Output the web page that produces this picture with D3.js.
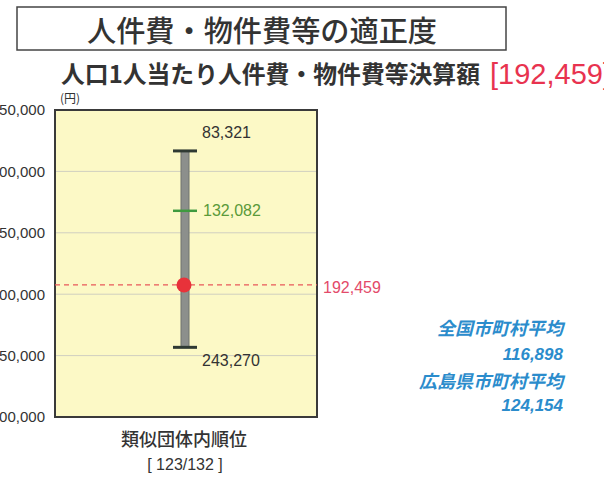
<!DOCTYPE html>
<html><head><meta charset="utf-8">
<script src="https://cdn.jsdelivr.net/npm/d3@7"></script>
<style>
html,body{margin:0;padding:0;background:#fff;}
svg{display:block;}
</style></head>
<body>
<svg id="c" width="604" height="484"></svg>
<script>
// ---- data ----
const title = "人件費・物件費等の適正度";
const subtitle = "人口1人当たり人件費・物件費等決算額";
const currentValue = 192459;       // 当該団体
const minValue = 83321;            // 類似団体内最小
const maxValue = 243270;           // 類似団体内最大
const groupAverage = 132082;       // 類似団体平均
const yTicks = [50000, 100000, 150000, 200000, 250000, 300000];
const yDomain = [50000, 300000];
const averageLabels = ["全国市町村平均", "広島県市町村平均"];
const averageValues = [116898, 124154];
const rankLabel = "類似団体内順位";
const rank = [123, 132];
const unitLabel = "(円)";

const svg = d3.select("#c");
const fmt = d3.format(",");
const cjk = "'Noto Sans CJK JP','Noto Sans',sans-serif";
const num = "'Liberation Sans',Arial,sans-serif";

// ---- layout ----
const plot = {x0: 55, x1: 317, y0: 110, y1: 417};
const y = d3.scaleLinear().domain(yDomain).range([plot.y0, plot.y1]);
const cx = 185;

// title box
svg.append("rect").attr("x", 17).attr("y", 7).attr("width", 489).attr("height", 43)
  .attr("fill", "#fff").attr("stroke", "#444").attr("stroke-width", 1.5);
svg.append("text").attr("x", 262).attr("y", 29).attr("text-anchor", "middle")
  .attr("dominant-baseline", "central")
  .attr("font-family", cjk).attr("font-size", 29).attr("font-weight", 500)
  .attr("fill", "#333").attr("textLength", 350).attr("lengthAdjust", "spacingAndGlyphs")
  .text(title);

// subtitle
svg.append("text").attr("x", 61).attr("y", 72).attr("dominant-baseline", "central")
  .attr("font-family", cjk).attr("font-size", 24).attr("font-weight", 700)
  .attr("fill", "#333").attr("textLength", 419).attr("lengthAdjust", "spacingAndGlyphs")
  .text(subtitle);
svg.append("text").attr("x", 490).attr("y", 74).attr("dominant-baseline", "central")
  .attr("font-family", num).attr("font-size", 29)
  .attr("fill", "#e8334f")
  .text("[" + fmt(currentValue) + "]");

// plot background
svg.append("rect").attr("x", plot.x0).attr("y", plot.y0)
  .attr("width", plot.x1 - plot.x0).attr("height", plot.y1 - plot.y0)
  .attr("fill", "#fcf9c6");

// grid
svg.append("g").selectAll("line").data(yTicks.slice(1, -1)).join("line")
  .attr("x1", plot.x0).attr("x2", plot.x1)
  .attr("y1", d => y(d)).attr("y2", d => y(d))
  .attr("stroke", "#d0cfc0").attr("stroke-width", 1);

// axis
const ax = svg.append("g").attr("transform", `translate(${plot.x0},0)`)
  .call(d3.axisLeft(y).tickValues(yTicks).tickSize(0).tickPadding(10).tickFormat(fmt));
ax.select(".domain").remove();
ax.selectAll("text").attr("font-family", num).attr("font-size", 15).attr("fill", "#333");

// unit
svg.append("text").attr("x", 60).attr("y", 103)
  .attr("font-family", cjk).attr("font-size", 12).attr("fill", "#333").text(unitLabel);

// border
svg.append("rect").attr("x", plot.x0).attr("y", plot.y0)
  .attr("width", plot.x1 - plot.x0).attr("height", plot.y1 - plot.y0)
  .attr("fill", "none").attr("stroke", "#3a3a3a").attr("stroke-width", 2);

// range bar
svg.append("rect").attr("x", cx - 4).attr("y", y(minValue))
  .attr("width", 8).attr("height", y(maxValue) - y(minValue))
  .attr("fill", "#8c8f8c").attr("stroke", "#6f736f").attr("stroke-width", 1);
svg.append("g").selectAll("line").data([minValue, maxValue]).join("line")
  .attr("x1", cx - 12).attr("x2", cx + 12)
  .attr("y1", d => y(d)).attr("y2", d => y(d))
  .attr("stroke", "#2f3a33").attr("stroke-width", 3);

// group average
svg.append("line").attr("x1", cx - 12).attr("x2", cx + 12)
  .attr("y1", y(groupAverage)).attr("y2", y(groupAverage))
  .attr("stroke", "#3f9a3f").attr("stroke-width", 2.5);
svg.append("text").attr("x", 203).attr("y", y(groupAverage)).attr("dominant-baseline", "central")
  .attr("font-family", num).attr("font-size", 16).attr("fill", "#5a9a3a").text(fmt(groupAverage));

// min / max labels
svg.append("text").attr("x", 202).attr("y", y(minValue) - 18).attr("dominant-baseline", "central")
  .attr("font-family", num).attr("font-size", 16).attr("fill", "#333").text(fmt(minValue));
svg.append("text").attr("x", 202).attr("y", y(maxValue) + 13).attr("dominant-baseline", "central")
  .attr("font-family", num).attr("font-size", 16).attr("fill", "#333").text(fmt(maxValue));

// current value line + dot
svg.append("line").attr("x1", plot.x0).attr("x2", plot.x1)
  .attr("y1", y(currentValue)).attr("y2", y(currentValue))
  .attr("stroke", "#e8585a").attr("stroke-width", 1.3).attr("stroke-dasharray", "5,4");
svg.append("circle").attr("cx", cx - 1).attr("cy", y(currentValue)).attr("r", 7.5)
  .attr("fill", "#e8323a");
svg.append("text").attr("x", 323).attr("y", y(currentValue) + 3).attr("dominant-baseline", "central")
  .attr("font-family", num).attr("font-size", 16).attr("fill", "#e34a6a").text(fmt(currentValue));

// averages (right side)
const avgG = svg.append("g").attr("font-family", cjk).attr("font-weight", 700)
  .attr("font-style", "italic").attr("fill", "#2b8ccc").attr("text-anchor", "end");
averageLabels.forEach((lab, i) => {
  avgG.append("text").attr("x", 563).attr("y", 327 + i * 53).attr("dominant-baseline", "central")
    .attr("font-size", 18).attr("transform", `skewX(0)`).text(lab);
  avgG.append("text").attr("x", 563).attr("y", 354 + i * 51).attr("dominant-baseline", "central")
    .attr("font-family", num).attr("font-size", 17).text(fmt(averageValues[i]));
});

// rank
svg.append("text").attr("x", 184).attr("y", 438).attr("text-anchor", "middle").attr("dominant-baseline", "central")
  .attr("font-family", cjk).attr("font-size", 18).attr("font-weight", 500).attr("fill", "#333").text(rankLabel);
svg.append("text").attr("x", 185).attr("y", 464).attr("text-anchor", "middle").attr("dominant-baseline", "central")
  .attr("font-family", num).attr("font-size", 16).attr("fill", "#333")
  .attr("xml:space", "preserve").text("[ " + rank[0] + "/" + rank[1] + " ]");
</script>
</body></html>
